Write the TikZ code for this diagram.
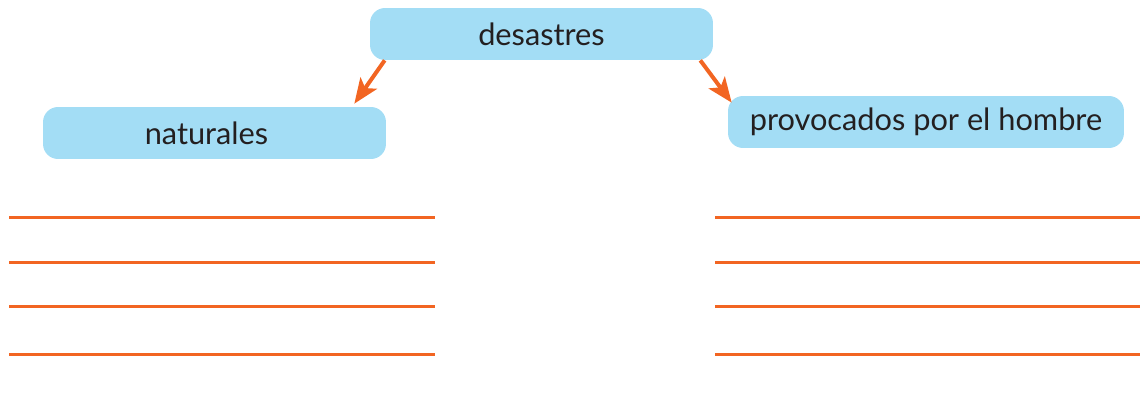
\documentclass[tikz,border=0pt]{standalone}
\usepackage{fontspec}
\setmainfont{Lato}
\usepackage{xcolor}
\usetikzlibrary{positioning, arrows.meta}

\definecolor{boxblue}{HTML}{A3DDF5}
\definecolor{lineorange}{HTML}{F26522}
\definecolor{textdark}{HTML}{231F20}

\begin{document}
\begin{tikzpicture}[
    x=0.02cm, y=-0.02cm,
    >={Stealth[length=5mm,width=4mm,inset=1.2mm]},
    box/.style={
        fill=boxblue,
        rounded corners=3mm,
        minimum height=1.04cm,
        text=textdark,
        font=\fontsize{17.5}{20}\selectfont
    },
    arr/.style={->, lineorange, line width=0.08cm},
    rule/.style={lineorange, line width=0.06cm}
]
  \useasboundingbox (0,0) rectangle (1140,399);

  \node[box,minimum width=6.86cm] (des) at (541.5,34) {desastres};
  \node[box,minimum width=6.86cm] (nat) at (214.5,133) {naturales\kern3.2mm};
  \node[box,minimum width=7.92cm] (prov) at (926,122) {provocados por el hombre};

  \draw[arr] ([xshift=3mm]des.south west) -- ([xshift=-6.4mm,yshift=0.6mm]nat.north east);
  \draw[arr] ([xshift=-2.6mm]des.south east) -- ([xshift=0.8mm,yshift=-1.4mm]prov.north west);

  % lines to write on
  \foreach \y in {217,262,306,354} {
    \draw[rule] (9,\y) -- (435,\y);
    \draw[rule] (715,\y) -- (1140,\y);
  }
\end{tikzpicture}
\end{document}
